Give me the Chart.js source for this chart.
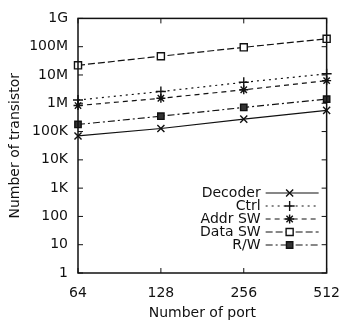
<!DOCTYPE html>
<html>
<head>
<meta charset="utf-8">
<script src="https://cdn.jsdelivr.net/npm/chart.js@4/dist/chart.umd.min.js"></script>
<style>
  html, body { margin: 0; padding: 0; background: #fff; }
  #wrap { width: 352px; height: 322px; }
</style>
</head>
<body>
<div id="wrap"><canvas id="c" width="352" height="322"></canvas></div>
<script>
// ── Data ──
const ports = ['64', '128', '256', '512'];
const decoder = [70e3, 128e3, 275e3, 560e3];
const ctrl = [1.3e6, 2.6e6, 5.5e6, 11e6];
const addrSW = [830e3, 1.5e6, 3.0e6, 6.3e6];
const dataSW = [22e6, 46e6, 95e6, 190e6];
const rw = [178e3, 350e3, 710e3, 1.4e6];

const yTickValues = [1, 10, 100, 1e3, 1e4, 1e5, 1e6, 1e7, 1e8, 1e9];
const yTickLabels = ['1', '10', '100', '1K', '10K', '100K', '1M', '10M', '100M', '1G'];

const FONT = "'DejaVu Sans', sans-serif";

function series(label, data, dash, style, radius, fill) {
    return {
        label, data,
        borderColor: '#111', borderWidth: 1.2, borderDash: dash,
        pointStyle: style, pointRadius: radius, pointBorderWidth: 1.4,
        pointBorderColor: '#111', pointBackgroundColor: fill,
        fill: false, tension: 0
    };
}

// frame box + inward ticks (gnuplot style)
const framePlugin = {
    id: 'frame',
    afterDatasetsDraw(chart) {
        const { ctx, chartArea: a, scales } = chart;
        ctx.save();
        ctx.strokeStyle = '#111';
        ctx.lineWidth = 1.5;
        ctx.strokeRect(a.left, a.top, a.right - a.left, a.bottom - a.top);
        ctx.lineWidth = 1;
        ctx.beginPath();
        scales.y.ticks.forEach(t => {
            const y = scales.y.getPixelForValue(t.value);
            ctx.moveTo(a.left, y); ctx.lineTo(a.left + 5, y);
            ctx.moveTo(a.right, y); ctx.lineTo(a.right - 5, y);
        });
        ports.forEach((p, i) => {
            const x = scales.x.getPixelForValue(i);
            ctx.moveTo(x, a.bottom); ctx.lineTo(x, a.bottom - 5);
            ctx.moveTo(x, a.top); ctx.lineTo(x, a.top + 5);
        });
        ctx.stroke();
        ctx.restore();
    }
};

// legend inside plot, text left of sample (like gnuplot)
const keyPlugin = {
    id: 'key',
    afterDatasetsDraw(chart) {
        const { ctx, chartArea: a } = chart;
        const textRight = a.right - 66;
        const x0 = a.right - 61, x1 = a.right - 8, xm = a.right - 37;
        let y = a.bottom - 80;
        ctx.save();
        ctx.font = '14px ' + FONT;
        ctx.textAlign = 'right';
        ctx.textBaseline = 'middle';
        chart.data.datasets.forEach(ds => {
            ctx.fillStyle = '#111';
            ctx.fillText(ds.label, textRight, y);
            ctx.strokeStyle = ds.borderColor;
            ctx.lineWidth = ds.borderWidth;
            ctx.setLineDash(ds.borderDash || []);
            ctx.beginPath(); ctx.moveTo(x0, y); ctx.lineTo(x1, y); ctx.stroke();
            ctx.setLineDash([]);
            ctx.fillStyle = ds.pointBackgroundColor;
            ctx.strokeStyle = ds.pointBorderColor;
            ctx.lineWidth = ds.pointBorderWidth;
            Chart.helpers.drawPoint(ctx, { pointStyle: ds.pointStyle, radius: ds.pointRadius, rotation: 0, borderWidth: ds.pointBorderWidth }, xm, y);
            y += 13;
        });
        ctx.restore();
    }
};

new Chart(document.getElementById('c'), {
    type: 'line',
    data: {
        labels: ports,
        datasets: [
            series('Decoder', decoder, [], 'crossRot', 5, '#111'),
            series('Ctrl', ctrl, [2, 4], 'cross', 5, '#111'),
            series('Addr SW', addrSW, [5, 4], 'star', 4.5, '#111'),
            series('Data SW', dataSW, [7, 3], 'rect', 5, '#fff'),
            series('R/W', rw, [7, 3, 2, 3], 'rect', 4.5, '#333')
        ]
    },
    options: {
        responsive: false,
        animation: false,
        layout: { padding: { top: 15, right: 17, left: 0, bottom: 0 } },
        plugins: { legend: { display: false }, tooltip: { enabled: false } },
        scales: {
            x: {
                type: 'category',
                offset: false,
                grid: { display: false, drawTicks: false },
                border: { display: false },
                ticks: { color: '#111', font: { family: FONT, size: 14 }, padding: 12, maxRotation: 0 },
                title: { display: true, text: 'Number of port', color: '#111', font: { family: FONT, size: 14 }, padding: { top: 0, bottom: 0 } },
                afterFit(scale) { scale.height = 49; }
            },
            y: {
                type: 'logarithmic',
                min: 1, max: 1e9,
                grid: { display: false, drawTicks: false },
                border: { display: false },
                afterBuildTicks(scale) { scale.ticks = yTickValues.map(v => ({ value: v })); },
                ticks: {
                    color: '#111', font: { family: FONT, size: 14 }, padding: 10,
                    callback: (v) => yTickLabels[yTickValues.indexOf(v)] ?? ''
                },
                title: { display: true, text: 'Number of transistor', color: '#111', font: { family: FONT, size: 14 }, padding: { top: 7, bottom: 0 } },
                afterFit(scale) { scale.width = 78; }
            }
        }
    },
    plugins: [framePlugin, keyPlugin]
});
</script>
</body>
</html>
